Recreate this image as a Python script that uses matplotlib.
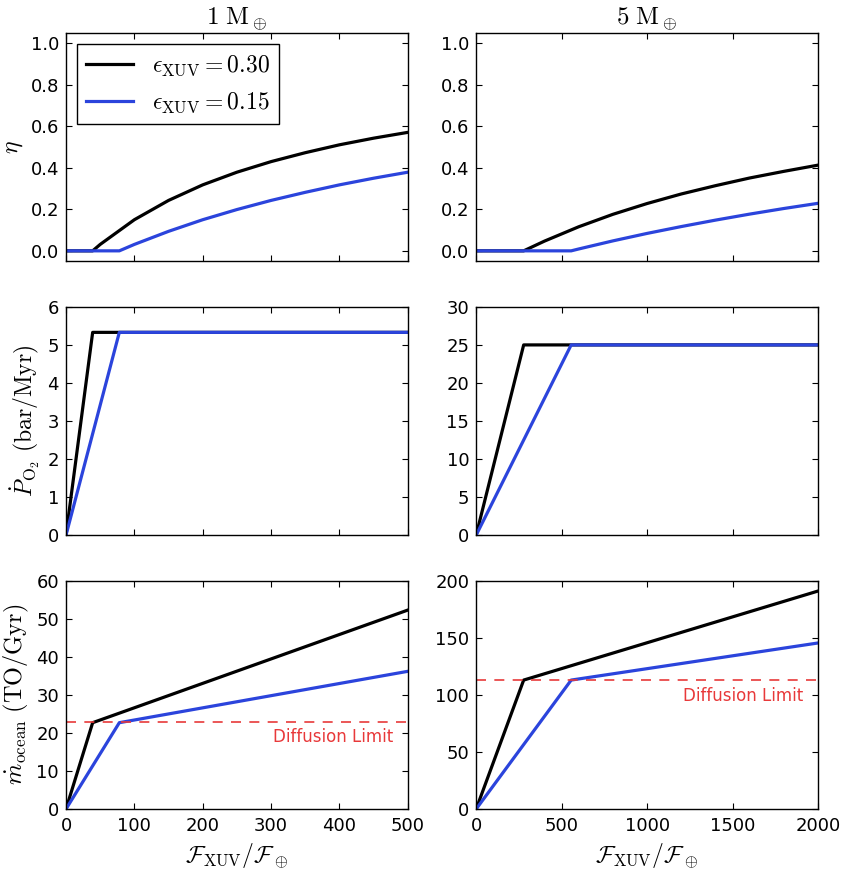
import matplotlib
matplotlib.use('Agg')
import matplotlib.pyplot as plt

plt.rcParams['mathtext.fontset'] = 'cm'
plt.rcParams['font.family'] = 'DejaVu Sans'
plt.rcParams['xtick.direction'] = 'in'
plt.rcParams['ytick.direction'] = 'in'
plt.rcParams['xtick.top'] = True
plt.rcParams['ytick.right'] = True
plt.rcParams['xtick.major.size'] = 4
plt.rcParams['ytick.major.size'] = 4
plt.rcParams['xtick.major.pad'] = 6
plt.rcParams['ytick.major.pad'] = 5
plt.rcParams['axes.linewidth'] = 1.0

BLACK = 'black'
BLUE = '#2b44dc'
RED = '#e8393a'
LW = 2.3

titles = [r'$1\ \mathrm{M}_\oplus$', r'$5\ \mathrm{M}_\oplus$']
labels = [r'$\epsilon_{\mathrm{XUV}} = 0.30$', r'$\epsilon_{\mathrm{XUV}} = 0.15$']

# eta vs F_XUV
eta_x_1 = [0, 39, 50, 100, 150, 200, 250, 300, 350, 400, 450, 500]
eta_hi_1 = [0, 0, 0.031, 0.15, 0.243, 0.318, 0.379, 0.43, 0.473, 0.511, 0.543, 0.571]
eta_x_1b = [0, 78, 100, 150, 200, 250, 300, 350, 400, 450, 500]
eta_lo_1 = [0, 0, 0.031, 0.094, 0.15, 0.199, 0.243, 0.282, 0.318, 0.35, 0.379]

eta_x_5 = [0, 278, 400, 600, 800, 1000, 1200, 1400, 1600, 1800, 2000]
eta_hi_5 = [0, 0, 0.047, 0.116, 0.176, 0.228, 0.274, 0.314, 0.351, 0.383, 0.413]
eta_x_5b = [0, 556, 600, 800, 1000, 1200, 1400, 1600, 1800, 2000]
eta_lo_5 = [0, 0, 0.009, 0.048, 0.084, 0.117, 0.148, 0.177, 0.204, 0.229]

# oxygen pressure buildup rate
po2_x_1_hi = [0, 39, 500]
po2_x_1_lo = [0, 78, 500]
po2_1 = [0, 5.33, 5.33]
po2_x_5_hi = [0, 278, 2000]
po2_x_5_lo = [0, 556, 2000]
po2_5 = [0, 25.0, 25.0]

# ocean loss rate
ocean_1_hi = [0, 22.7, 52.3]
ocean_1_lo = [0, 22.7, 36.2]
ocean_5_hi = [0, 113, 191]
ocean_5_lo = [0, 113, 145.5]
diff_limit = [22.8, 113]

xmax = [500, 2000]
fig, axes = plt.subplots(3, 2, figsize=(8.43, 8.72), dpi=100)
fig.subplots_adjust(left=0.0783, right=0.9703, top=0.9622, bottom=0.0722,
                    hspace=0.2, wspace=0.2)

# row 0: eta
ax = axes[0, 0]
ax.plot(eta_x_1, eta_hi_1, color=BLACK, lw=LW, label=labels[0])
ax.plot(eta_x_1b, eta_lo_1, color=BLUE, lw=LW, label=labels[1])
leg = ax.legend(loc='upper left', fontsize=17, fancybox=False, framealpha=1,
                edgecolor='black', borderaxespad=0.45, handlelength=2.0)
leg.get_frame().set_linewidth(1.0)
ax = axes[0, 1]
ax.plot(eta_x_5, eta_hi_5, color=BLACK, lw=LW)
ax.plot(eta_x_5b, eta_lo_5, color=BLUE, lw=LW)
for ax in axes[0]:
    ax.set_ylim(-0.05, 1.05)
    ax.set_yticks([0.0, 0.2, 0.4, 0.6, 0.8, 1.0])
    ax.set_yticklabels(['0.0', '0.2', '0.4', '0.6', '0.8', '1.0'])
axes[0, 0].set_ylabel(r'$\eta$', fontsize=17)

# row 1: P_O2
ax = axes[1, 0]
ax.plot(po2_x_1_hi, po2_1, color=BLACK, lw=LW)
ax.plot(po2_x_1_lo, po2_1, color=BLUE, lw=LW)
ax.set_ylim(0, 6)
ax.set_ylabel(r'$\dot{P}_{\mathrm{O}_2}\ (\mathrm{bar/Myr})$', fontsize=17)
ax = axes[1, 1]
ax.plot(po2_x_5_hi, po2_5, color=BLACK, lw=LW)
ax.plot(po2_x_5_lo, po2_5, color=BLUE, lw=LW)
ax.set_ylim(0, 30)

# row 2: ocean loss
ax = axes[2, 0]
ax.plot(po2_x_1_hi, ocean_1_hi, color=BLACK, lw=LW)
ax.plot(po2_x_1_lo, ocean_1_lo, color=BLUE, lw=LW)
ax.axhline(diff_limit[0], color=RED, lw=1.2, ls=(0, (6, 5)))
ax.text(478, 19, 'Diffusion Limit', color=RED, fontsize=12, ha='right', va='center')
ax.set_ylim(0, 60)
ax.set_ylabel(r'$\dot{m}_{\mathrm{ocean}}\ (\mathrm{TO/Gyr})$', fontsize=17.5)
ax = axes[2, 1]
ax.plot(po2_x_5_hi, ocean_5_hi, color=BLACK, lw=LW)
ax.plot(po2_x_5_lo, ocean_5_lo, color=BLUE, lw=LW)
ax.axhline(diff_limit[1], color=RED, lw=1.2, ls=(0, (6, 5)))
ax.text(1912, 99, 'Diffusion Limit', color=RED, fontsize=12, ha='right', va='center')
ax.set_ylim(0, 200)
ax.set_yticks([0, 50, 100, 150, 200])

for col in range(2):
    axes[0, col].set_title(titles[col], fontsize=18, pad=5)
    for row in range(3):
        ax = axes[row, col]
        ax.set_xlim(0, xmax[col])
        ax.tick_params(labelsize=13)
    axes[2, col].set_xlabel(r'$\mathcal{F}_{\mathrm{XUV}}/\mathcal{F}_\oplus$', fontsize=17)

axes[2, 0].set_xticks([0, 100, 200, 300, 400, 500])
axes[2, 1].set_xticks([0, 500, 1000, 1500, 2000])
for row in range(2):
    axes[row, 0].set_xticks([0, 100, 200, 300, 400, 500])
    axes[row, 0].set_xticklabels([])
    axes[row, 1].set_xticks([0, 500, 1000, 1500, 2000])
    axes[row, 1].set_xticklabels([])

fig.savefig('out.png', dpi=100)
